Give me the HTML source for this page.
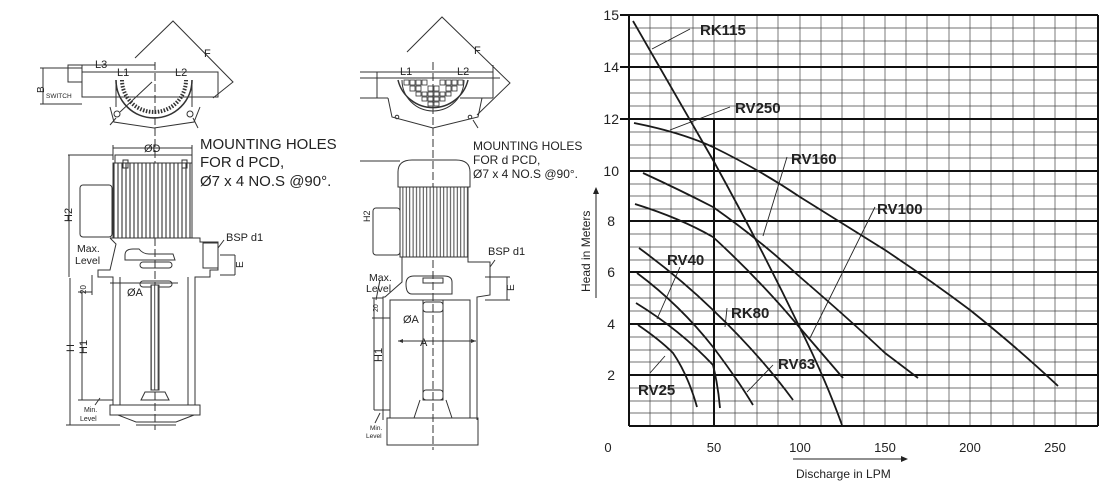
<!DOCTYPE html>
<html><head><meta charset="utf-8">
<style>
html,body{margin:0;padding:0;background:#fff;}
svg{display:block;}
text{font-family:"Liberation Sans",sans-serif;fill:#222;}
</style></head>
<body>
<svg width="1100" height="483" viewBox="0 0 1100 483" xmlns="http://www.w3.org/2000/svg">
<defs>
<pattern id="fins" width="4" height="10" patternUnits="userSpaceOnUse">
<rect width="4" height="10" fill="#fff"/><line x1="2" y1="0" x2="2" y2="10" stroke="#333" stroke-width="1.1"/>
</pattern>
<pattern id="fins2" width="3.4" height="10" patternUnits="userSpaceOnUse">
<rect width="3.4" height="10" fill="#fff"/><line x1="1.7" y1="0" x2="1.7" y2="10" stroke="#333" stroke-width="0.9"/>
</pattern>
</defs>

<!-- ================= LEFT DRAWING ================= -->
<g fill="none" stroke="#333" stroke-width="1">
<polyline points="135,58 173,21 233,82 213,98"/>
<rect x="82" y="72" width="136" height="25"/>
<rect x="68" y="65" width="14" height="17"/>
<line x1="68" y1="65" x2="155" y2="65"/>
<line x1="40" y1="68" x2="82" y2="68"/>
<line x1="40" y1="104" x2="82" y2="104"/>
<line x1="43" y1="68" x2="43" y2="104"/>
<line x1="110" y1="72" x2="218" y2="72"/>
<path d="M116,80 A38,38 0 0 0 192,80" stroke-width="1.6"/>
<path d="M122,80 A32,32 0 0 0 186,80" stroke-width="4" stroke-dasharray="1.5,1.5"/>
<line x1="116" y1="80" x2="116" y2="107"/>
<line x1="192" y1="80" x2="192" y2="107"/>
<polyline points="110,107 114,122 154,128 194,122 200,107"/>
<circle cx="117" cy="114" r="3"/>
<circle cx="190" cy="114" r="3"/>
<line x1="120" y1="112" x2="152" y2="82"/>
<line x1="110" y1="125" x2="116" y2="118"/>
<line x1="193" y1="118" x2="198" y2="128"/>
<line x1="155" y1="62" x2="155" y2="430" stroke-dasharray="8,3"/>
<line x1="113" y1="148" x2="192" y2="148"/>
<line x1="113" y1="145" x2="113" y2="160"/>
<line x1="192" y1="145" x2="192" y2="160"/>
<rect x="115" y="155" width="77" height="8"/>
<rect x="113" y="163" width="79" height="75" fill="url(#fins)"/>
<rect x="80" y="185" width="32" height="52" rx="3"/>
<rect x="123" y="160" width="5" height="8"/>
<rect x="182" y="160" width="5" height="8"/>
<line x1="68" y1="155" x2="113" y2="155"/>
<line x1="69" y1="155" x2="69" y2="277"/>
<polyline points="110,238 200,238 200,242 218,242 218,270 210,270 210,277 195,277 195,405"/>
<polyline points="110,238 116,244 110,270 98,270 98,277 113,277 113,405"/>
<rect x="203" y="243" width="15" height="25"/>
<path d="M125,255 q0,-6 8,-6 l6,0 q4,5 10,5 l24,0 l2,6 l-50,0 z"/>
<rect x="140" y="262" width="32" height="6" rx="3"/>
<rect x="140" y="281" width="32" height="6" rx="3"/>
<line x1="120" y1="277" x2="120" y2="405"/>
<line x1="188" y1="277" x2="188" y2="405"/>
<line x1="110" y1="283" x2="178" y2="283"/>
<rect x="151" y="285" width="8" height="105" fill="url(#fins2)"/>
<path d="M145,392 l20,0 l4,8 l-28,0 z"/>
<rect x="110" y="405" width="90" height="10"/>
<polyline points="118,415 136,422 176,422 194,415"/>
<line x1="136" y1="425" x2="176" y2="425"/>
<line x1="70" y1="278" x2="70" y2="425"/>
<line x1="66" y1="425" x2="120" y2="425"/>
<line x1="82" y1="292" x2="82" y2="400"/>
<line x1="78" y1="292" x2="92" y2="292"/>
<line x1="78" y1="400" x2="113" y2="400"/>
<line x1="92" y1="275" x2="92" y2="295"/>
<line x1="95" y1="405" x2="100" y2="398"/>
<line x1="220" y1="255" x2="235" y2="255"/>
<line x1="220" y1="275" x2="235" y2="275"/>
<line x1="235" y1="255" x2="235" y2="275"/>
<line x1="218" y1="248" x2="224" y2="240"/>
</g>
<g font-size="11">
<text x="204" y="57" font-size="11">F</text>
<text x="95" y="68">L3</text>
<text x="117" y="76">L1</text>
<text x="175" y="76">L2</text>
<text x="46" y="98" font-size="6.5">SWITCH</text>
<text x="0" y="0" transform="translate(44,93) rotate(-90)" font-size="10">B</text>
<text x="200" y="149" font-size="15">MOUNTING HOLES</text>
<text x="200" y="167" font-size="15">FOR d PCD,</text>
<text x="200" y="186" font-size="15">Ø7 x 4 NO.S @90°.</text>
<text x="144" y="152" font-size="11">ØD</text>
<text x="0" y="0" transform="translate(72,222) rotate(-90)" font-size="11">H2</text>
<text x="226" y="241" font-size="11">BSP d1</text>
<text x="0" y="0" transform="translate(243,268) rotate(-90)" font-size="10">E</text>
<text x="77" y="252" font-size="10.5">Max.</text>
<text x="75" y="264" font-size="10.5">Level</text>
<text x="0" y="0" transform="translate(86,294) rotate(-90)" font-size="8">20</text>
<text x="127" y="296" font-size="11">ØA</text>
<text x="0" y="0" transform="translate(74,352) rotate(-90)" font-size="11">H</text>
<text x="0" y="0" transform="translate(87,354) rotate(-90)" font-size="11">H1</text>
<text x="84" y="412" font-size="7">Min.</text>
<text x="80" y="421" font-size="7">Level</text>
</g>

<!-- ================= MIDDLE DRAWING ================= -->
<g fill="none" stroke="#333" stroke-width="1">
<polyline points="407,52 442,17 510,83 477,115"/>
<line x1="360" y1="72" x2="493" y2="72"/>
<line x1="360" y1="98" x2="388" y2="98"/>
<line x1="377" y1="72" x2="377" y2="98"/>
<line x1="493" y1="65" x2="493" y2="98"/>
<line x1="460" y1="98" x2="493" y2="98"/>
<line x1="360" y1="78" x2="500" y2="78"/>
<path d="M398,80 A36,36 0 0 0 468,80" stroke-width="1.5"/>
<path d="M402,80 A31,31 0 0 0 464,80"/>
<g fill="#fff" stroke-width="0.8">
<rect x="404" y="80" width="5" height="5"/><rect x="410" y="80" width="5" height="5"/><rect x="416" y="80" width="5" height="5"/><rect x="422" y="80" width="5" height="5"/><rect x="440" y="80" width="5" height="5"/><rect x="446" y="80" width="5" height="5"/><rect x="452" y="80" width="5" height="5"/><rect x="458" y="80" width="5" height="5"/>
<rect x="410" y="86" width="5" height="5"/><rect x="416" y="86" width="5" height="5"/><rect x="428" y="86" width="5" height="5"/><rect x="434" y="86" width="5" height="5"/><rect x="446" y="86" width="5" height="5"/><rect x="452" y="86" width="5" height="5"/>
<rect x="416" y="92" width="5" height="4"/><rect x="422" y="92" width="5" height="4"/><rect x="428" y="92" width="5" height="4"/><rect x="434" y="92" width="5" height="4"/><rect x="440" y="92" width="5" height="4"/><rect x="446" y="92" width="5" height="4"/>
<rect x="422" y="97" width="5" height="4"/><rect x="428" y="97" width="5" height="4"/><rect x="434" y="97" width="5" height="4"/><rect x="440" y="97" width="5" height="4"/>
<rect x="428" y="102" width="5" height="4"/><rect x="434" y="102" width="5" height="4"/>
</g>
<polyline points="388,98 392,117 433,128 478,117 482,98"/>
<circle cx="397" cy="117" r="1.8"/><circle cx="470" cy="117" r="1.8"/>
<line x1="473" y1="120" x2="478" y2="128"/>
<line x1="433" y1="62" x2="433" y2="450" stroke-dasharray="8,3"/>
<line x1="360" y1="161" x2="400" y2="161"/>
<path d="M398,187 L398,172 Q398,160 412,160 L456,160 Q470,160 470,172 L470,187 Z"/>
<rect x="400" y="187" width="68" height="70" fill="url(#fins2)"/>
<rect x="373" y="208" width="27" height="47" rx="3"/>
<polyline points="402,257 402,282 385,297 383,297 383,420"/>
<polyline points="468,257 468,262 490,262 490,295 477,297 477,420"/>
<path d="M406,284 q0,-8 8,-8 l30,0 q8,0 8,6 l0,12 l-40,0 q-6,0 -6,-10z"/>
<rect x="423" y="278" width="20" height="5"/>
<rect x="390" y="300" width="80" height="118"/>
<rect x="423" y="300" width="20" height="100"/>
<rect x="423" y="302" width="20" height="10" rx="3"/>
<rect x="423" y="390" width="20" height="10" rx="3"/>
<path d="M420,400 l-6,18 M446,400 l6,18"/>
<rect x="387" y="418" width="91" height="27"/>
<line x1="485" y1="277" x2="510" y2="277"/>
<line x1="485" y1="300" x2="510" y2="300"/>
<line x1="507" y1="277" x2="507" y2="300"/>
<line x1="490" y1="267" x2="495" y2="260"/>
<line x1="398" y1="341" x2="476" y2="341"/>
<line x1="372" y1="298" x2="383" y2="298"/>
<line x1="372" y1="318" x2="390" y2="318"/>
<line x1="374" y1="298" x2="374" y2="410"/>
<line x1="374" y1="410" x2="390" y2="410"/>
<line x1="380" y1="280" x2="376" y2="300"/>
<line x1="380" y1="413" x2="375" y2="423"/>
</g>
<path d="M398,341 l5,-2 l0,4z M476,341 l-5,-2 l0,4z" fill="#333"/>
<g>
<text x="474" y="54" font-size="11">F</text>
<text x="400" y="75" font-size="11">L1</text>
<text x="457" y="75" font-size="11">L2</text>
<text x="473" y="150" font-size="12">MOUNTING HOLES</text>
<text x="473" y="164" font-size="12">FOR d PCD,</text>
<text x="473" y="178" font-size="12">Ø7 x 4 NO.S @90°.</text>
<text x="488" y="255" font-size="11">BSP d1</text>
<text x="0" y="0" transform="translate(514,291) rotate(-90)" font-size="10">E</text>
<text x="369" y="281" font-size="10.5">Max.</text>
<text x="366" y="292" font-size="10.5">Level</text>
<text x="0" y="0" transform="translate(378,312) rotate(-90)" font-size="7">20</text>
<text x="403" y="323" font-size="11">ØA</text>
<text x="420" y="346" font-size="11">A</text>
<text x="0" y="0" transform="translate(382,362) rotate(-90)" font-size="11">H1</text>
<text x="0" y="0" transform="translate(370,222) rotate(-90)" font-size="9">H2</text>
<text x="370" y="430" font-size="6.5">Min.</text>
<text x="366" y="438" font-size="6.5">Level</text>
</g>

<!-- ================= CHART ================= -->
<g stroke="#444" stroke-width="0.7" fill="none">
<path d="M650,15V426 M671,15V426 M693,15V426 M735,15V426 M757,15V426 M778,15V426 M821,15V426 M842,15V426 M864,15V426 M906,15V426 M927,15V426 M949,15V426 M991,15V426 M1013,15V426 M1034,15V426 M1076,15V426 M714,15V119 M800,15V426 M885,15V426 M970,15V426 M1055,15V426"/>
<path d="M629,28H1098 M629,41H1098 M629,54H1098 M629,80H1098 M629,93H1098 M629,106H1098 M629,132H1098 M629,145H1098 M629,158H1098 M629,184H1098 M629,196H1098 M629,209H1098 M629,234H1098 M629,247H1098 M629,260H1098 M629,285H1098 M629,298H1098 M629,311H1098 M629,337H1098 M629,350H1098 M629,362H1098 M629,388H1098 M629,401H1098 M629,413H1098"/>
</g>
<g stroke="#111" stroke-width="2" fill="none">
<path d="M629,15H1098 M629,67H1098 M629,119H1098 M629,171H1098 M629,221H1098 M629,272H1098 M629,324H1098 M629,375H1098 M629,426H1098"/>
<path d="M629,15V426 M1098,15V426 M714,119V426"/>
<path d="M620,15H629 M620,67H629 M620,119H629"/>
</g>
<g stroke="#1a1a1a" stroke-width="1.8" fill="none">
<path d="M633,21 L713,160 Q760,245 800,328 Q825,378 842,425"/>
<path d="M634,123 Q680,132 713,147 Q760,170 800,197 Q845,225 885,250 Q930,280 970,310 Q1020,350 1058,386"/>
<path d="M643,173 Q680,190 713,207 Q760,240 800,277 Q850,320 885,353 L918,378"/>
<path d="M635,204 Q680,218 713,237 Q760,280 800,328 L843,378"/>
<path d="M639,248 Q680,278 713,310 Q760,355 793,400"/>
<path d="M637,273 Q680,305 713,347 Q738,380 753,405"/>
<path d="M636,303 Q680,330 713,365 Q718,385 720,408"/>
<path d="M638,325 Q660,340 673,353 Q688,375 697,407"/>
</g>
<g stroke="#222" stroke-width="0.9" fill="none">
<line x1="690" y1="29" x2="652" y2="49"/>
<line x1="730" y1="107" x2="670" y2="130"/>
<line x1="787" y1="157" x2="763" y2="236"/>
<line x1="875" y1="207" x2="810" y2="338"/>
<line x1="680" y1="267" x2="657" y2="319"/>
<line x1="727" y1="308" x2="725" y2="327"/>
<line x1="773" y1="365" x2="747" y2="392"/>
<line x1="650" y1="373" x2="665" y2="356"/>
</g>
<g font-weight="bold" font-size="15">
<text x="700" y="35">RK115</text>
<text x="735" y="113">RV250</text>
<text x="791" y="164">RV160</text>
<text x="877" y="214">RV100</text>
<text x="667" y="265">RV40</text>
<text x="731" y="318">RK80</text>
<text x="778" y="369">RV63</text>
<text x="638" y="395">RV25</text>
</g>
<g font-size="14" text-anchor="end">
<text x="619" y="20">15</text>
<text x="619" y="72">14</text>
<text x="619" y="124">12</text>
<text x="619" y="176">10</text>
<text x="615" y="226">8</text>
<text x="615" y="277">6</text>
<text x="615" y="329">4</text>
<text x="615" y="380">2</text>
</g>
<g font-size="13" text-anchor="middle">
<text x="608" y="452">0</text>
<text x="714" y="452">50</text>
<text x="800" y="452">100</text>
<text x="885" y="452">150</text>
<text x="970" y="452">200</text>
<text x="1055" y="452">250</text>
</g>
<line x1="793" y1="459" x2="902" y2="459" stroke="#222" stroke-width="1"/>
<path d="M908,459 l-7,-3 l0,6z" fill="#222"/>
<text x="796" y="478" font-size="12">Discharge in LPM</text>
<line x1="596" y1="298" x2="596" y2="193" stroke="#222" stroke-width="1"/>
<path d="M596,187 l-3,7 l6,0z" fill="#222"/>
<text x="0" y="0" transform="translate(590,292) rotate(-90)" font-size="12">Head in Meters</text>
</svg>
</body></html>
